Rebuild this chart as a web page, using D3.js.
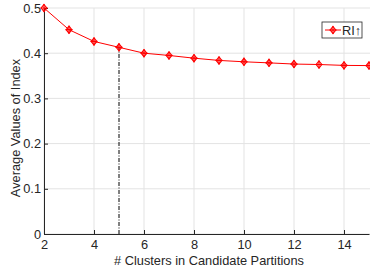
<!DOCTYPE html>
<html>
<head>
<meta charset="utf-8">
<script src="https://cdn.jsdelivr.net/npm/d3@7"></script>
<style>
  body { margin: 0; background: #fff; }
  text { font-family: "Liberation Sans", Arial, sans-serif; }
</style>
</head>
<body>
<div id="chart"></div>
<script>
  // data
  const clusters = [2, 3, 4, 5, 6, 7, 8, 9, 10, 11, 12, 13, 14, 15];
  const riValues = [0.5, 0.452, 0.426, 0.413, 0.400, 0.395, 0.389, 0.384, 0.381, 0.3786, 0.376, 0.375, 0.373, 0.3726];
  const xTicks = [2, 4, 6, 8, 10, 12, 14];
  const yTicks = [0, 0.1, 0.2, 0.3, 0.4, 0.5];
  const markedK = 5;
  const seriesName = "RI\u2191";

  var width = 370,
      height = 273,
      fontSize = "12.8px";

  var margin = { top: 8, right: 0, bottom: 39, left: 44 },
      iwidth = width - margin.left - margin.right,
      iheight = height - margin.top - margin.bottom;

  var svg = d3.select("#chart")
    .append("svg")
    .attr("width", width)
    .attr("height", height);

  var g = svg.append("g")
    .attr("transform", `translate(${margin.left}, ${margin.top})`);

  var x = d3.scaleLinear().domain([2, 15]).range([0, iwidth - 1]);
  var y = d3.scaleLinear().domain([0, 0.5]).range([iheight, 0]);

  // grid
  g.selectAll(".gx").data(xTicks).enter().append("line")
    .attr("x1", d => x(d)).attr("x2", d => x(d))
    .attr("y1", 0).attr("y2", iheight)
    .attr("stroke", "#e3e3e3").attr("stroke-width", 1);
  g.selectAll(".gy").data(yTicks).enter().append("line")
    .attr("x1", 0).attr("x2", iwidth)
    .attr("y1", d => y(d)).attr("y2", d => y(d))
    .attr("stroke", "#e3e3e3").attr("stroke-width", 1);

  // axes (ticks inward, MATLAB style)
  var xAxis = g.append("g")
    .attr("transform", `translate(0,${iheight})`)
    .call(d3.axisBottom(x).tickValues(xTicks).tickSizeInner(-4).tickSizeOuter(0).tickPadding(6));
  var yAxis = g.append("g")
    .call(d3.axisLeft(y).tickValues(yTicks).tickFormat(d => d === 0 ? "0" : d3.format(".1f")(d)).tickSizeInner(-4).tickSizeOuter(0).tickPadding(3));

  [xAxis, yAxis].forEach(a => {
    a.select(".domain").attr("stroke", "#262626").attr("stroke-width", 1);
    a.selectAll(".tick line").attr("stroke", "#262626");
    a.selectAll(".tick text").attr("fill", "#262626").style("font-size", fontSize)
      .style("font-family", "'Liberation Sans', Arial, sans-serif");
  });

  // axis labels
  svg.append("text")
    .attr("x", 209)
    .attr("y", 265)
    .attr("text-anchor", "middle")
    .attr("fill", "#262626")
    .style("font-size", fontSize)
    .text("# Clusters in Candidate Partitions");

  svg.append("text")
    .attr("transform", "translate(19.5,128) rotate(-90)")
    .attr("text-anchor", "middle")
    .attr("fill", "#262626")
    .style("font-size", fontSize)
    .text("Average Values of Index");

  // dash-dot marker line at chosen k
  var markedVal = riValues[clusters.indexOf(markedK)];
  g.append("line")
    .attr("x1", x(markedK)).attr("x2", x(markedK))
    .attr("y1", y(0)).attr("y2", y(markedVal))
    .attr("stroke", "#000").attr("stroke-width", 1)
    .attr("stroke-dasharray", "4,1.5,1,1.5");

  // series line
  var pts = clusters.map((c, i) => ({ k: c, v: riValues[i] }));
  g.append("path")
    .datum(pts)
    .attr("fill", "none")
    .attr("stroke", "#ff0000")
    .attr("stroke-width", 1)
    .attr("d", d3.line().x(d => x(d.k)).y(d => y(d.v)));

  function marker(sel) {
    sel.append("path")
      .attr("d", "M0,-3.5L2.8,0L0,3.5L-2.8,0Z")
      .attr("fill", "none").attr("stroke", "#ff0000").attr("stroke-width", 1.2);
    sel.append("path")
      .attr("d", "M-3.5,0H3.5M0,-4V4")
      .attr("stroke", "#ff0000").attr("stroke-width", 1.2);
  }

  g.selectAll(".pt").data(pts).enter().append("g")
    .attr("transform", d => `translate(${x(d.k)},${y(d.v)})`)
    .call(marker);

  // legend
  var lg = svg.append("g").attr("transform", "translate(322,22)");
  lg.append("rect")
    .attr("width", 40).attr("height", 16)
    .attr("fill", "#fff").attr("stroke", "#262626").attr("stroke-width", 0.8);
  lg.append("line")
    .attr("x1", 3).attr("x2", 19).attr("y1", 8).attr("y2", 8)
    .attr("stroke", "#ff0000").attr("stroke-width", 1);
  lg.append("g").attr("transform", "translate(11,8)").call(marker);
  lg.append("text")
    .attr("x", 20).attr("y", 12.5)
    .attr("fill", "#262626")
    .style("font-size", fontSize)
    .text(seriesName);
</script>
</body>
</html>
